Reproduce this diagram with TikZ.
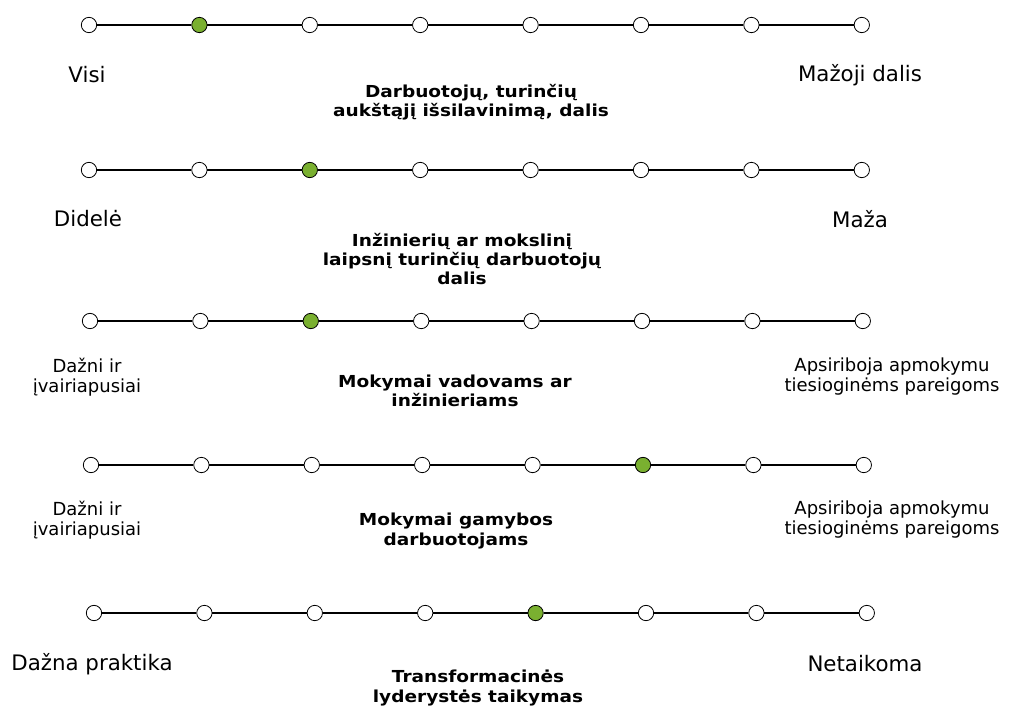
\documentclass[tikz,border=0pt]{standalone}
\usepackage{fontspec}
\setmainfont{DejaVu Sans}
\newfontfamily\titlefont[FakeStretch=1.12]{DejaVu Sans Bold}
\definecolor{pointgreen}{RGB}{122,176,48}
\tikzset{
  scalept/.style={circle,draw,line width=0.6pt,fill=white,minimum size=11.5pt,inner sep=0pt},
  scaleptsel/.style={scalept,fill=pointgreen},
  scaleline/.style={line width=1.1pt},
  endlabel/.style={font=\fontsize{16}{18}\selectfont},
  sidelabel/.style={font=\fontsize{13.5}{15}\selectfont,align=center},
  scaletitle/.style={font=\titlefont\fontsize{12.4}{14.6}\selectfont,align=center}
}
\begin{document}
\begin{tikzpicture}[x=0.75pt,y=-0.75pt]
\useasboundingbox (0,0) rectangle (1010,711);

% skalės: eilutė / pradžia x / y / pažymėtas taškas
\foreach \r/\x/\y/\g in {1/89/25/1, 2/89/170/2, 3/90/321/2, 4/91/465/5, 5/94/613/4} {
  \foreach \i in {0,...,7} {
    \ifnum\i=\g
      \node[scaleptsel] (r\r-\i) at (\x+\i*110.4,\y) {};
    \else
      \node[scalept] (r\r-\i) at (\x+\i*110.4,\y) {};
    \fi
  }
  \foreach \i [count=\j] in {0,...,6}
    \draw[scaleline] (r\r-\i) -- (r\r-\j);
}

% 1 skalė
\node[endlabel] (left1) at (87,75) {Visi};
\node[endlabel] (right1) at (860,75) {Mažoji dalis};
\node[scaletitle] (title1) at (471,102) {Darbuotojų, turinčių\\aukštąjį išsilavinimą, dalis};

% 2 skalė
\node[endlabel] (left2) at (88,219) {Didelė};
\node[endlabel] (right2) at (860,219) {Maža};
\node[scaletitle] (title2) at (462,259) {Inžinierių ar mokslinį\\laipsnį turinčių darbuotojų\\dalis};

% 3 skalė
\node[sidelabel] (left3) at (87,377) {Dažni ir\\įvairiapusiai};
\node[sidelabel] (right3) at (892,377) {Apsiriboja apmokymu\\tiesioginėms pareigoms};
\node[scaletitle] (title3) at (455,391) {Mokymai vadovams ar\\inžinieriams};

% 4 skalė
\node[sidelabel] (left4) at (87,520) {Dažni ir\\įvairiapusiai};
\node[sidelabel] (right4) at (892,520) {Apsiriboja apmokymu\\tiesioginėms pareigoms};
\node[scaletitle] (title4) at (456,531) {Mokymai gamybos\\darbuotojams};

% 5 skalė
\node[endlabel] (left5) at (92,664) {Dažna praktika};
\node[endlabel] (right5) at (865,664) {Netaikoma};
\node[scaletitle] (title5) at (478,688) {Transformacinės\\lyderystės taikymas};
\end{tikzpicture}
\end{document}
